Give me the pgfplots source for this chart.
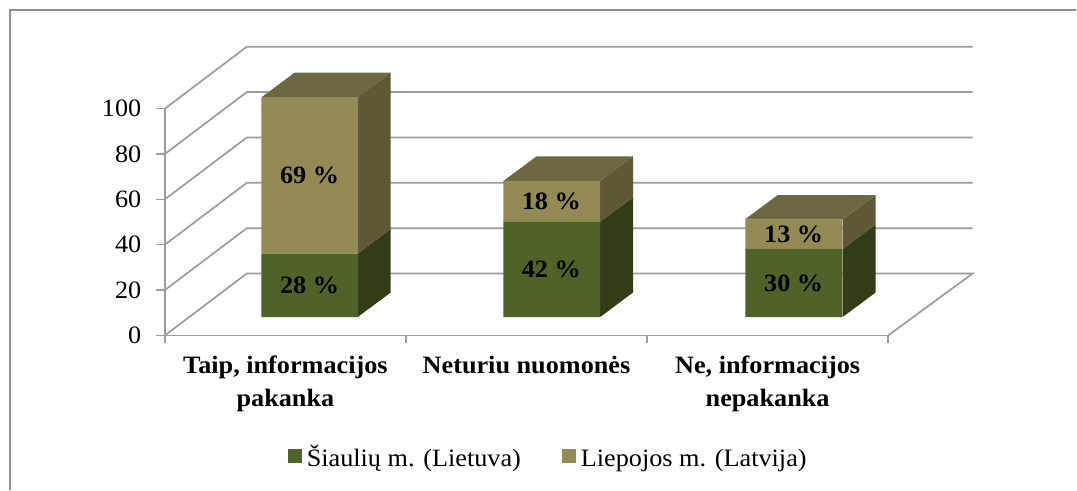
\documentclass[border=0pt]{standalone}
\usepackage{pgfplots}
\pgfplotsset{compat=1.18}
\usepackage{fontspec}
\setmainfont[FakeStretch=1.05]{Liberation Serif}
\definecolor{grn}{HTML}{4F6228}
\definecolor{grnS}{HTML}{313D17}
\definecolor{tan}{HTML}{948A54}
\definecolor{tanS}{HTML}{5E5835}
\definecolor{tanT}{HTML}{6E6842}
\definecolor{gridc}{HTML}{9C9C9C}
\definecolor{framec}{HTML}{8E8E8E}
\pgfplotsset{
  base/.style={
    width=724pt, height=227pt, scale only axis,
    at={(165pt,154.3pt)}, anchor=south west,
    xmin=0, xmax=3, ymin=0, ymax=100, clip=false},
  wall/.style={gridc, line width=1.7pt, no marks, sharp plot},
  face/.style={draw=none, no marks, sharp plot},
}
\begin{document}
\begin{tikzpicture}[x=1pt,y=1pt]
% page background and frame
\begin{axis}[base, hide axis]
\addplot[draw=none, fill=white, no marks] coordinates {(-0.6837,-68) (3.779,-68) (3.779,147.9) (-0.6837,147.9)} -- cycle;
\addplot[framec, line width=2pt, no marks] coordinates {(-0.644,-68) (-0.644,143.3) (3.779,143.3)};
\end{axis}
% walls, side faces, axis
\begin{axis}[base,
  axis lines*=left, axis line style={-, gridc, line width=1.7pt},
  tick align=outside, major tick length=9pt, minor tick length=8pt,
  ytick={0,20,40,60,80,100},
  xtick={0.5,1.5,2.5},
  xticklabels={{Taip, informacijos\\pakanka},{Neturiu nuomonės},{Ne, informacijos\\nepakanka}},
  minor xtick={0,1,2,3},
  major x tick style={draw=none},
  minor x tick style={gridc, line width=1.4pt},
  major y tick style={gridc, line width=1.4pt},
  yticklabel style={font=\fontsize{25}{25}\selectfont, xshift=-11pt},
  /pgf/number format/assume math mode=true,
  xticklabel style={font=\fontsize{25}{33}\selectfont\bfseries, align=center, anchor=north, yshift=-8pt},
]
\addplot[wall] coordinates {(3,0) (3.35,27.3) (0.34,27.3) (0,0)};
\addplot[wall] coordinates {(0,20) (0.34,47.3) (3.35,47.3)};
\addplot[wall] coordinates {(0,40) (0.34,67.3) (3.35,67.3)};
\addplot[wall] coordinates {(0,60) (0.34,87.3) (3.35,87.3)};
\addplot[wall] coordinates {(0,80) (0.34,107.3) (3.35,107.3)};
\addplot[wall] coordinates {(0,100) (0.34,127.3) (3.35,127.3)};
% bar 1 side / top
\addplot[face, fill=grnS] coordinates {(0.7997,8.1) (0.9364,18.9) (0.9364,46.9) (0.7997,36.1)} -- cycle;
\addplot[face, fill=tanS] coordinates {(0.7997,36.1) (0.9364,46.9) (0.9364,115.9) (0.7997,105.1)} -- cycle;
\addplot[face, fill=tanT] coordinates {(0.402,105.1) (0.7997,105.1) (0.9364,115.9) (0.5387,115.9)} -- cycle;
% bar 2
\addplot[face, fill=grnS] coordinates {(1.805,8.1) (1.9417,18.9) (1.9417,60.9) (1.805,50.1)} -- cycle;
\addplot[face, fill=tanS] coordinates {(1.805,50.1) (1.9417,60.9) (1.9417,78.9) (1.805,68.1)} -- cycle;
\addplot[face, fill=tanT] coordinates {(1.404,68.1) (1.805,68.1) (1.9417,78.9) (1.5407,78.9)} -- cycle;
% bar 3
\addplot[face, fill=grnS] coordinates {(2.811,8.1) (2.9477,18.9) (2.9477,48.9) (2.811,38.1)} -- cycle;
\addplot[face, fill=tanS] coordinates {(2.811,38.1) (2.9477,48.9) (2.9477,61.9) (2.811,51.1)} -- cycle;
\addplot[face, fill=tanT] coordinates {(2.405,51.1) (2.811,51.1) (2.9477,61.9) (2.5417,61.9)} -- cycle;
\end{axis}
% front faces
\begin{axis}[base, hide axis, ybar stacked, bar width=97pt,
  legend style={at={(axis cs:1.59,-53.0)}, anchor=center, draw=none, fill=none,
    legend columns=2, font=\fontsize{25}{25}\selectfont,
    /tikz/every even column/.append style={column sep=39pt},
    inner sep=0pt, outer sep=0pt},
  legend image code/.code={\fill (0pt,-7pt) rectangle (14pt,7pt);},
]
\addplot[draw=none, fill=none, forget plot] coordinates {(0.601,8.1) (1.6045,8.1) (2.609,8.1)};
\addplot[draw=none, fill=grn] coordinates {(0.601,28) (1.6045,42) (2.609,30)};
\addplot[draw=none, fill=tan] coordinates {(0.601,69) (1.6045,18) (2.609,13)};
\legend{\rule[-7pt]{0pt}{30pt}\hspace*{3pt}Šiaulių m. (Lietuva),\rule[-7pt]{0pt}{30pt}\hspace*{3pt}Liepojos m. (Latvija)}
\end{axis}
% value labels
\begin{axis}[base, hide axis]
\addplot[draw=none, no marks, nodes near coords, point meta=explicit symbolic,
  every node near coord/.style={anchor=center, font=\fontsize{25}{25}\selectfont\bfseries, inner sep=0pt}]
  table[meta=label, col sep=comma] {
x,y,label
0.600,22.1,28 \%
0.600,70.6,69 \%
1.603,29.1,42 \%
1.603,59.1,18 \%
2.608,23.1,30 \%
2.608,44.6,13 \%
};
\end{axis}
\end{tikzpicture}
\end{document}
